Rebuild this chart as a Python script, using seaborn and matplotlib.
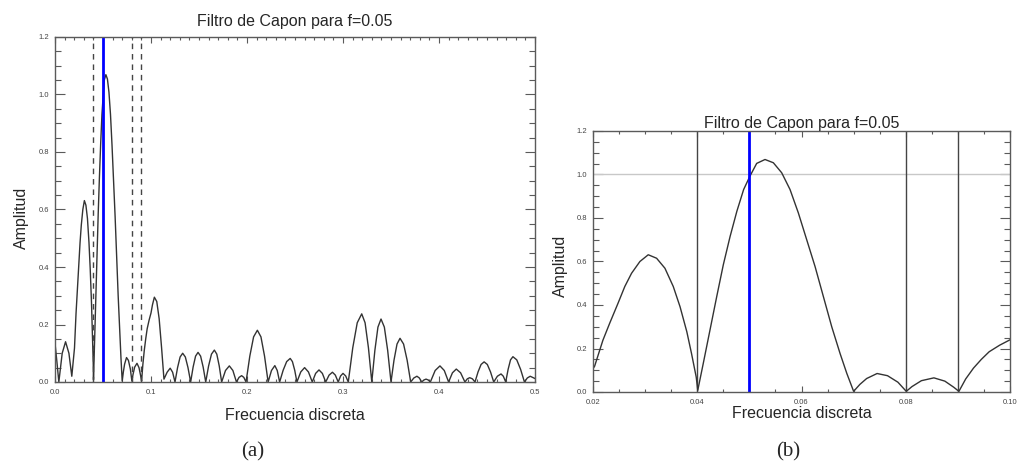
import numpy as np
import pandas as pd
import matplotlib
matplotlib.use("Agg")
import matplotlib.pyplot as plt
from matplotlib.ticker import MultipleLocator, FormatStrFormatter
import seaborn as sns

# ---------------- data ----------------
freq = [
    0.0000, 0.0020, 0.0040, 0.0075, 0.0110, 0.0145, 0.0175,
    0.0203, 0.0219, 0.0232, 0.0248, 0.0261, 0.0274, 0.0290, 0.0306,
    0.0322, 0.0338, 0.0354, 0.0367, 0.0380, 0.0389, 0.0398, 0.0401,
    0.04115, 0.04244, 0.04373, 0.0450, 0.0463, 0.0476, 0.0489, 0.0501,
    0.0514, 0.0530, 0.0546, 0.0562, 0.0578, 0.0594, 0.0610, 0.0626,
    0.0642, 0.0658, 0.0674, 0.0687, 0.0700,
    0.0712, 0.0725, 0.0745, 0.0765, 0.0785, 0.0801,
    0.0812, 0.0830, 0.0854, 0.0875, 0.0892, 0.0902,
    0.0915, 0.0930, 0.0945, 0.0960, 0.0980, 0.1000, 0.1015, 0.1035,
    0.1060, 0.1085, 0.1110, 0.1135,
    0.1168, 0.1200, 0.1225, 0.1250,
    0.12767, 0.13033, 0.1330, 0.13577, 0.13853, 0.1413,
    0.14387, 0.14643, 0.1490, 0.15167, 0.15433, 0.1570,
    0.1600, 0.1630, 0.1660, 0.16853, 0.17107, 0.1736,
    0.1776, 0.1816, 0.1853, 0.1890,
    0.1917, 0.1944, 0.1967, 0.1990,
    0.20293, 0.20687, 0.2108, 0.21453, 0.21827, 0.2220,
    0.2255, 0.2290, 0.2315, 0.2340,
    0.23767, 0.24133, 0.2450, 0.2473, 0.2497, 0.2520,
    0.2560, 0.2600, 0.2640, 0.2680,
    0.2715, 0.2750, 0.2785, 0.2820,
    0.2855, 0.2890, 0.2920, 0.2950,
    0.2975, 0.3000, 0.3028, 0.3055,
    0.31017, 0.31483, 0.3195, 0.3230, 0.3265, 0.3300,
    0.3332, 0.3364, 0.3396, 0.34307, 0.34653, 0.3500,
    0.35313, 0.35627, 0.3594, 0.3631, 0.3668, 0.3705,
    0.3738, 0.3770, 0.3795, 0.3820,
    0.3843, 0.3865, 0.3888, 0.3910,
    0.3960, 0.4010, 0.4055, 0.4100,
    0.4140, 0.4180, 0.4225, 0.4270,
    0.4295, 0.4320, 0.4348, 0.4375,
    0.44067, 0.44383, 0.4470, 0.45033, 0.45367, 0.4570,
    0.4608, 0.4646, 0.4670, 0.4695,
    0.4720, 0.4745, 0.4770, 0.4810, 0.4850, 0.4890,
    0.4920, 0.4950, 0.5000,
]
amplitude = [
    0.135, 0.070, 0.000, 0.100, 0.140, 0.100, 0.020,
    0.118, 0.238, 0.316, 0.408, 0.485, 0.546, 0.600, 0.631,
    0.615, 0.569, 0.485, 0.392, 0.277, 0.177, 0.069, 0.008,
    0.131, 0.285, 0.438, 0.585, 0.715, 0.831, 0.931, 0.992,
    1.051, 1.069, 1.054, 1.008, 0.931, 0.823, 0.700, 0.577,
    0.438, 0.300, 0.177, 0.085, 0.003,
    0.035, 0.062, 0.085, 0.075, 0.045, 0.003,
    0.025, 0.052, 0.065, 0.050, 0.022, 0.003,
    0.060, 0.110, 0.150, 0.185, 0.215, 0.240, 0.268, 0.295,
    0.280, 0.220, 0.120, 0.010,
    0.034, 0.048, 0.034, 0.000,
    0.050, 0.087, 0.100, 0.087, 0.050, 0.000,
    0.052, 0.090, 0.103, 0.090, 0.052, 0.000,
    0.056, 0.097, 0.111, 0.097, 0.056, 0.000,
    0.040, 0.056, 0.040, 0.000,
    0.016, 0.022, 0.016, 0.000,
    0.090, 0.157, 0.180, 0.157, 0.090, 0.000,
    0.040, 0.057, 0.040, 0.000,
    0.041, 0.071, 0.082, 0.071, 0.041, 0.000,
    0.035, 0.050, 0.035, 0.000,
    0.030, 0.042, 0.030, 0.000,
    0.024, 0.034, 0.024, 0.000,
    0.021, 0.030, 0.021, 0.000,
    0.119, 0.206, 0.237, 0.206, 0.119, 0.000,
    0.110, 0.191, 0.219, 0.191, 0.110, 0.000,
    0.076, 0.132, 0.152, 0.132, 0.076, 0.000,
    0.014, 0.020, 0.014, 0.000,
    0.007, 0.010, 0.007, 0.000,
    0.040, 0.056, 0.040, 0.000,
    0.032, 0.045, 0.032, 0.000,
    0.011, 0.015, 0.011, 0.000,
    0.035, 0.061, 0.070, 0.061, 0.035, 0.000,
    0.020, 0.028, 0.020, 0.000,
    0.044, 0.077, 0.088, 0.077, 0.044, 0.000,
    0.014, 0.020, 0.012,
]
assert len(freq) == len(amplitude)

target_freq = 0.05                 # blue line
band_edges = [0.04, 0.08, 0.09]    # dashed (a) / solid (b) lines
unit_level = 1.0                   # grey horizontal line in (b)

title = "Filtro de Capon para f=0.05"
xlabel = "Frecuencia discreta"
ylabel = "Amplitud"

df = pd.DataFrame({"f": freq, "a": amplitude})

# ---------------- style ----------------
sns.set_style("ticks")
plt.rcParams["font.family"] = ["Liberation Sans", "DejaVu Sans"]

W, H = 1019, 476
fig = plt.figure(figsize=(W / 100, H / 100), dpi=100)
fig.patch.set_facecolor("white")

ax1 = fig.add_axes([55 / W, 1 - 382 / H, 480 / W, 345 / H])
ax2 = fig.add_axes([593 / W, 1 - 392 / H, 417 / W, 261 / H])

curve_col = "#333333"
spine_col = "#5a5a5a"

def style_axes(ax, xmaj, xmin, xfmt):
    for s in ax.spines.values():
        s.set_color(spine_col)
        s.set_linewidth(1.0)
        s.set_visible(True)
    ax.xaxis.set_major_locator(MultipleLocator(xmaj))
    ax.xaxis.set_minor_locator(MultipleLocator(xmin))
    ax.yaxis.set_major_locator(MultipleLocator(0.2))
    ax.yaxis.set_minor_locator(MultipleLocator(0.05))
    ax.xaxis.set_major_formatter(FormatStrFormatter(xfmt))
    ax.yaxis.set_major_formatter(FormatStrFormatter("%.1f"))
    ax.tick_params(axis="both", which="both", direction="in",
                   top=True, right=True, color=spine_col,
                   labelsize=5.5, labelcolor="#444444", width=0.8)
    ax.tick_params(axis="x", which="major", length=4.5, pad=5)
    ax.tick_params(axis="x", which="minor", length=2.5)
    ax.tick_params(axis="y", which="major", length=7, pad=4)
    ax.tick_params(axis="y", which="minor", length=4.5)
    ax.set_ylim(0, 1.2)
    ax.grid(False)

# ---------------- panel (a) ----------------
sns.lineplot(data=df, x="f", y="a", ax=ax1, color=curve_col, lw=1.0,
             sort=False, estimator=None)
for fe in band_edges:
    ax1.axvline(fe, color="#444444", lw=1.0, ls=(0, (4, 3.5)))
ax1.axvline(target_freq, color="#0000ff", lw=2.0)
ax1.set_xlim(0, 0.5)
style_axes(ax1, 0.1, 0.01, "%.1f")
ax1.set_title(title, fontsize=11.5, pad=8)
ax1.set_xlabel(xlabel, fontsize=11.5)
ax1.set_ylabel(ylabel, fontsize=11.5)
ax1.xaxis.set_label_coords(0.5, -0.075)
ax1.yaxis.set_label_coords(-0.055, 0.475)

# ---------------- panel (b) ----------------
ax2.axhline(unit_level, color="#c8c8c8", lw=1.0)
for fe in band_edges:
    ax2.axvline(fe, color="#444444", lw=1.0)
sns.lineplot(data=df, x="f", y="a", ax=ax2, color=curve_col, lw=1.0,
             sort=False, estimator=None)
ax2.axvline(target_freq, color="#0000ff", lw=2.0)
ax2.set_xlim(0.02, 0.10)
style_axes(ax2, 0.02, 0.005, "%.2f")
ax2.set_title(title, fontsize=11.5, pad=2)
ax2.set_xlabel(xlabel, fontsize=11.5)
ax2.set_ylabel(ylabel, fontsize=11.5)
ax2.xaxis.set_label_coords(0.5, -0.055)
ax2.yaxis.set_label_coords(-0.06, 0.483)

# ---------------- sub-figure captions ----------------
fig.text(253 / W, 1 - 452 / H, "(a)", ha="center", va="center",
         fontsize=15, family=["Liberation Serif", "DejaVu Serif"])
fig.text(788 / W, 1 - 452 / H, "(b)", ha="center", va="center",
         fontsize=15, family=["Liberation Serif", "DejaVu Serif"])

fig.savefig("out.png", dpi=100, facecolor="white")
